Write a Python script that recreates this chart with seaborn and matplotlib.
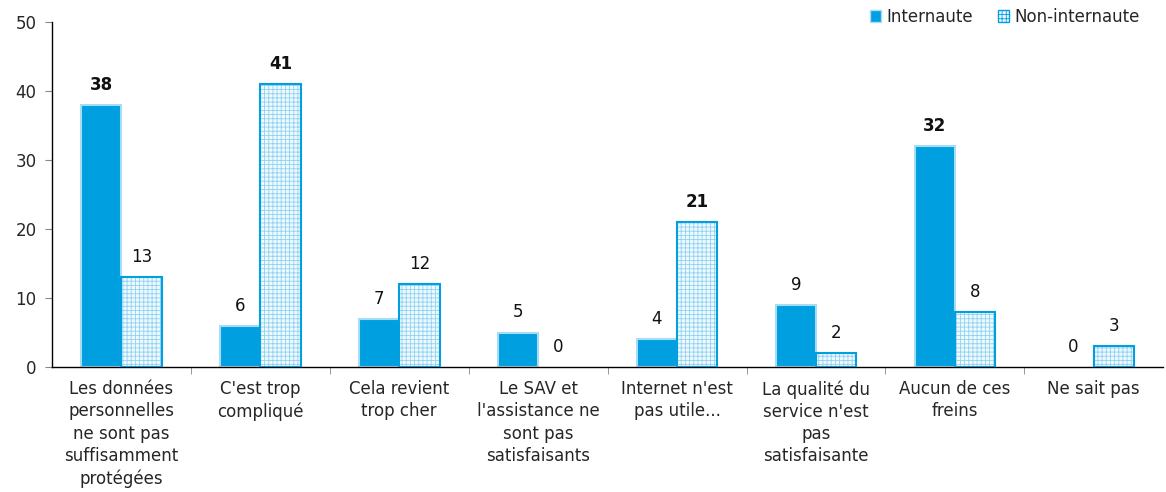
# plot.py
# internet barriers: internautes vs non-internautes

import pandas as pd
import matplotlib.pyplot as plt
import seaborn as sns
from matplotlib.patches import Patch, Rectangle

categories = [
    "Les données\npersonnelles\nne sont pas\nsuffisamment\nprotégées",
    "C'est trop\ncompliqué",
    "Cela revient\ntrop cher",
    "Le SAV et\nl'assistance ne\nsont pas\nsatisfaisants",
    "Internet n'est\npas utile...",
    "La qualité du\nservice n'est\npas\nsatisfaisante",
    "Aucun de ces\nfreins",
    "Ne sait pas",
]
internaute = [38, 6, 7, 5, 4, 9, 32, 0]
non_internaute = [13, 41, 12, 0, 21, 2, 8, 3]
series = ["Internaute", "Non-internaute"]

blue = "#009fe0"
light_edge = "#a6dcf5"
hatch_face = "#eef8fd"
hatch_color = "#8fd3f3"

df = pd.DataFrame({
    "cat": categories * 2,
    "val": internaute + non_internaute,
    "grp": [series[0]] * len(categories) + [series[1]] * len(categories),
})

sns.set_style("white")
plt.rcParams["font.family"] = ["DejaVu Sans"]
plt.rcParams["hatch.linewidth"] = 0.6

fig = plt.figure(figsize=(11.66, 4.92), dpi=100)
ax = fig.add_axes([0.0446, 0.254, 0.953, 0.701])

sns.barplot(data=df, x="cat", y="val", hue="grp", hue_order=series,
            palette=[blue, hatch_face], width=0.58, saturation=1,
            legend=False, ax=ax)

# style bars: solid for internautes, light grid for non-internautes
for bar, v in zip(ax.containers[0], internaute):
    bar.set_facecolor(blue)
    bar.set_edgecolor(light_edge)
    bar.set_linewidth(1.5 if v > 0 else 0)
for bar, v in zip(ax.containers[1], non_internaute):
    bar.set_facecolor(hatch_face)
    bar.set_edgecolor(hatch_color)
    bar.set_hatch("++++")
    bar.set_linewidth(0)
    if v > 0:
        ax.add_patch(Rectangle(bar.get_xy(), bar.get_width(), bar.get_height(),
                               fill=False, edgecolor=blue, linewidth=1.5, zorder=3))

# value labels
for container, vals in zip(ax.containers, [internaute, non_internaute]):
    for bar, v in zip(container, vals):
        x = bar.get_x() + bar.get_width() / 2
        ax.annotate(str(v), (x, v), xytext=(0, 8), textcoords="offset points",
                    ha="center", va="bottom", fontsize=12,
                    fontweight="bold" if v >= 20 else "normal", color="#111111")

ax.set_ylim(0, 50)
ax.set_xlim(-0.5, len(categories) - 0.5)
ax.set_yticks(range(0, 51, 10))
ax.set_xlabel("")
ax.set_ylabel("")
for s in ["top", "right"]:
    ax.spines[s].set_visible(False)
for s in ["left", "bottom"]:
    ax.spines[s].set_color("black")
    ax.spines[s].set_linewidth(1)

ax.tick_params(axis="y", left=True, length=5, color="#888888", labelsize=12, pad=6)
ax.tick_params(axis="x", bottom=False, labelsize=12, pad=6)
ax.set_xticks([i + 0.5 for i in range(len(categories) - 1)], minor=True)
ax.tick_params(axis="x", which="minor", bottom=True, length=5, color="#888888")
for lbl in ax.get_xticklabels():
    lbl.set_multialignment("center")
    lbl.set_linespacing(1.3)

handles = [
    Patch(facecolor=blue, edgecolor=light_edge, label=series[0]),
    Patch(facecolor=hatch_face, edgecolor=blue, hatch="++++", label=series[1]),
]
ax.legend(handles=handles, loc="upper right", ncol=2, frameon=False,
          fontsize=12, handlelength=0.7, handleheight=0.7, handletextpad=0.3,
          columnspacing=1.5, bbox_to_anchor=(0.985, 1.06), borderaxespad=0)

fig.savefig("out.png", dpi=100)
